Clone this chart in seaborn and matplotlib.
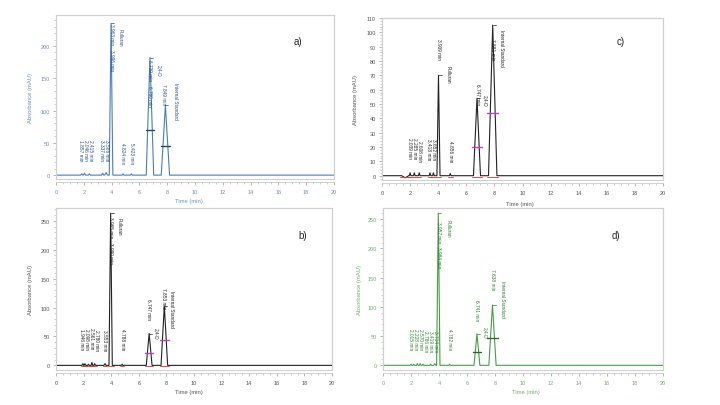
import numpy as np
import pandas as pd
import seaborn as sns
import matplotlib.pyplot as plt
from matplotlib.patches import Rectangle
from matplotlib.ticker import MultipleLocator

sns.set_theme(style="white")
plt.rcParams['font.family'] = ['Liberation Sans', 'DejaVu Sans']

W, H = 720, 406

# ---- panel a) (blue) ----
a_times = [1.85, 2.05, 2.40, 3.35, 3.60, 3.96, 4.82, 5.42, 6.76, 7.87]
a_heights = [2, 3, 2, 3, 4, 235, 2, 2, 182, 108]
a_widths = [0.08, 0.08, 0.08, 0.08, 0.10, 0.13, 0.06, 0.06, 0.27, 0.30]
a_labels = [(1.78, 56, "1.857 min"), (2.13, 56, "2.046 min"), (2.48, 56, "2.415 min"),
            (3.28, 56, "3.337 min"), (3.62, 56, "3.586 min"), (3.96, 236, "3.963 min"),
            (3.96, 196, "3.996 min"), (4.64, 228, "Pulluran"), (4.82, 52, "4.824 min"),
            (5.42, 52, "5.423 min"), (6.74, 180, "6.739 min"), (6.74, 140, "6.760 min"),
            (7.42, 172, "2,4-D"), (7.76, 142, "7.849 min"), (8.62, 144, "Internal Standard")]
a_marks = [(6.76, 70, 0.30), (7.87, 45, 0.35)]

# ---- panel c) (black) ----
c_times = [1.65, 2.00, 2.30, 2.65, 3.42, 3.66, 4.02, 4.86, 6.76, 7.88]
c_heights = [-1.5, 2, 2, 2, 2, 2, 70, 1.5, 54, 105]
c_widths = [0.25, 0.06, 0.06, 0.06, 0.06, 0.06, 0.11, 0.06, 0.25, 0.30]
c_labels = [(1.95, 27, "2.039 min"), (2.30, 27, "2.285 min"), (2.65, 25, "2.608 min"),
            (3.33, 26, "3.418 min"), (3.68, 26, "3.652 min"), (4.04, 96, "3.909 min"),
            (4.72, 77, "Pulluran"), (4.86, 25, "4.856 min"), (6.78, 65, "6.747 min"),
            (7.32, 57, "2,4-D"), (7.90, 96, "7.881 min"), (8.53, 102, "Internal Standard")]
c_marks = [(6.76, 20, 0.35), (7.88, 43.4, 0.40)]

# ---- panel b) (black) ----
b_times = [1.95, 2.10, 2.35, 2.60, 2.80, 3.55, 3.96, 4.79, 6.75, 7.85]
b_heights = [3, 3, 2, 5, 3, 3, 263, 2, 55, 103]
b_widths = [0.06, 0.06, 0.06, 0.06, 0.06, 0.08, 0.12, 0.06, 0.21, 0.24]
b_labels = [(1.85, 64, "1.946 min"), (2.20, 64, "2.098 min"), (2.55, 66, "2.561 min"),
            (2.90, 62, "2.780 min"), (3.55, 62, "3.553 min"), (3.96, 258, "3.965 min"),
            (3.96, 214, "3.990 min"), (4.55, 257, "Pulluran"), (4.79, 64, "4.788 min"),
            (6.72, 116, "6.747 min"), (7.25, 67, "2,4-D"), (7.82, 136, "7.853 min"),
            (8.38, 130, "Internal Standard")]
b_marks = [(6.75, 21, 0.30), (7.85, 43, 0.35)]

# ---- panel d) (green) ----
d_times = [2.00, 2.20, 2.45, 2.65, 2.85, 3.40, 3.70, 3.95, 4.76, 6.71, 7.82]
d_heights = [2, 2, 3, 3, 2, 2, 3, 260, 2, 54, 103]
d_widths = [0.06, 0.06, 0.06, 0.06, 0.06, 0.06, 0.08, 0.12, 0.06, 0.21, 0.26]
d_labels = [(1.95, 63, "2.015 min"), (2.30, 63, "2.228 min"), (2.65, 63, "2.570 min"),
            (3.00, 60, "2.786 min"), (3.38, 60, "3.419 min"), (3.73, 60, "3.714 min"),
            (3.93, 246, "3.957 min"), (3.93, 204, "3.984 min"), (4.64, 251, "Pulluran"),
            (4.78, 63, "4.782 min"), (6.71, 114, "6.741 min"), (7.25, 68, "2,4-D"),
            (7.82, 166, "7.838 min"), (8.53, 146, "Internal Standard")]
d_marks = [(6.71, 22, 0.30), (7.82, 46, 0.40)]


def trace(times, heights, widths):
    xs, ys = [0.0], [0.0]
    for t, h, w in zip(times, heights, widths):
        xs += [t - w, t, t + w]
        ys += [0.0, h, 0.0]
    xs.append(20.0)
    ys.append(0.0)
    return pd.DataFrame({'time': xs, 'mAU': ys})


def px_axes(fig, left, top, right, bottom):
    return fig.add_axes([left / W, 1 - bottom / H, (right - left) / W, (bottom - top) / H])


fig = plt.figure(figsize=(7.2, 4.06), dpi=100)

panels = [
    dict(box=(56, 16, 334, 180), ylim=(-6, 248), ymaj=50, ymin=10,
         times=a_times, heights=a_heights, widths=a_widths, labels=a_labels, marks=a_marks,
         color='#4a7cc0', tcolor='#2b4f8c', kcolor='#6d8fc0', mcolor='#27466f', red=False,
         letter='a)', lpos=(0.853, 0.84), ylab=-0.083, xlab=(0.478, -0.113)),
    dict(box=(382, 19, 663, 181), ylim=(-3, 110), ymaj=10, ymin=2,
         times=c_times, heights=c_heights, widths=c_widths, labels=c_labels, marks=c_marks,
         color='#222222', tcolor='#222222', kcolor='#555555', mcolor='#c040c0', red=True,
         letter='c)', lpos=(0.836, 0.858), ylab=-0.085, xlab=(0.49, -0.127)),
    dict(box=(56, 209, 332, 371), ylim=(-8, 272), ymaj=50, ymin=10,
         times=b_times, heights=b_heights, widths=b_widths, labels=b_labels, marks=b_marks,
         color='#222222', tcolor='#222222', kcolor='#555555', mcolor='#c040c0', red=True,
         letter='b)', lpos=(0.877, 0.833), ylab=-0.083, xlab=(0.48, -0.12)),
    dict(box=(383, 209, 663, 371), ylim=(-8, 269), ymaj=50, ymin=10,
         times=d_times, heights=d_heights, widths=d_widths, labels=d_labels, marks=d_marks,
         color='#44a044', tcolor='#2f7d2f', kcolor='#6fb06f', mcolor='#2a6a2a', red=False,
         letter='d)', lpos=(0.818, 0.833), ylab=-0.075, xlab=(0.51, -0.12)),
]

for p in panels:
    ax = px_axes(fig, *p['box'])
    df = trace(p['times'], p['heights'], p['widths'])
    sns.lineplot(data=df, x='time', y='mAU', sort=False, estimator=None,
                 color=p['color'], linewidth=0.8, ax=ax)
    ax.set_xlim(0, 20)
    ax.set_ylim(*p['ylim'])
    span = p['ylim'][1] - p['ylim'][0]

    # baseline markers (red) and half-height markers
    if p['red']:
        for t, w in zip(p['times'], p['widths']):
            ax.plot([t - w - 0.1, t + w + 0.1], [-0.006 * span, -0.006 * span],
                    color='#e03030', lw=0.6)
    for t, y, hw in p['marks']:
        ax.plot([t - hw, t + hw], [y, y], color=p['mcolor'], lw=1.0)

    # apex ticks of the named peaks
    for t, h in zip(p['times'], p['heights']):
        if h > 40:
            ax.plot([t, t + 0.22], [h, h], color=p['tcolor'], lw=0.5)

    for x, y, s in p['labels']:
        ax.text(x, y, s, rotation=-90, ha='center', va='top', fontsize=3.4,
                color=p['tcolor'])

    ax.text(*p['lpos'], p['letter'], transform=ax.transAxes, fontsize=7,
            color='#222222', ha='left', va='center')

    # Chromeleon-like frame
    for s in ['top', 'right', 'left']:
        ax.spines[s].set_color('#d0d0d0')
        ax.spines[s].set_linewidth(0.8)
    ax.spines['bottom'].set_position(('outward', 2.5))
    ax.spines['bottom'].set_color('#c8c8c8')
    ax.spines['bottom'].set_linewidth(0.6)
    ax.add_patch(Rectangle((0, 0), 1, 1, transform=ax.transAxes, fill=False,
                           ec='#d0d0d0', lw=0.8, clip_on=False))

    ax.xaxis.set_major_locator(MultipleLocator(2))
    ax.xaxis.set_minor_locator(MultipleLocator(0.5))
    ax.yaxis.set_major_locator(MultipleLocator(p['ymaj']))
    ax.yaxis.set_minor_locator(MultipleLocator(p['ymin']))
    ax.tick_params(axis='both', which='major', labelsize=4, length=2.5, width=0.5,
                   color='#999999', labelcolor=p['kcolor'], pad=2, direction='out')
    ax.tick_params(axis='both', which='minor', length=1.5, width=0.4,
                   color='#aaaaaa', direction='out')
    ax.tick_params(axis='x', which='both', bottom=True)
    ax.tick_params(axis='y', which='both', left=True)

    ax.set_xlabel('Time (min)', fontsize=4.2, color=p['kcolor'])
    ax.set_ylabel('Absorbance (mAU)', fontsize=4.2, color=p['kcolor'])
    ax.xaxis.set_label_coords(*p['xlab'])
    ax.yaxis.set_label_coords(p['ylab'], 0.5)

fig.savefig('out.png', dpi=100)
